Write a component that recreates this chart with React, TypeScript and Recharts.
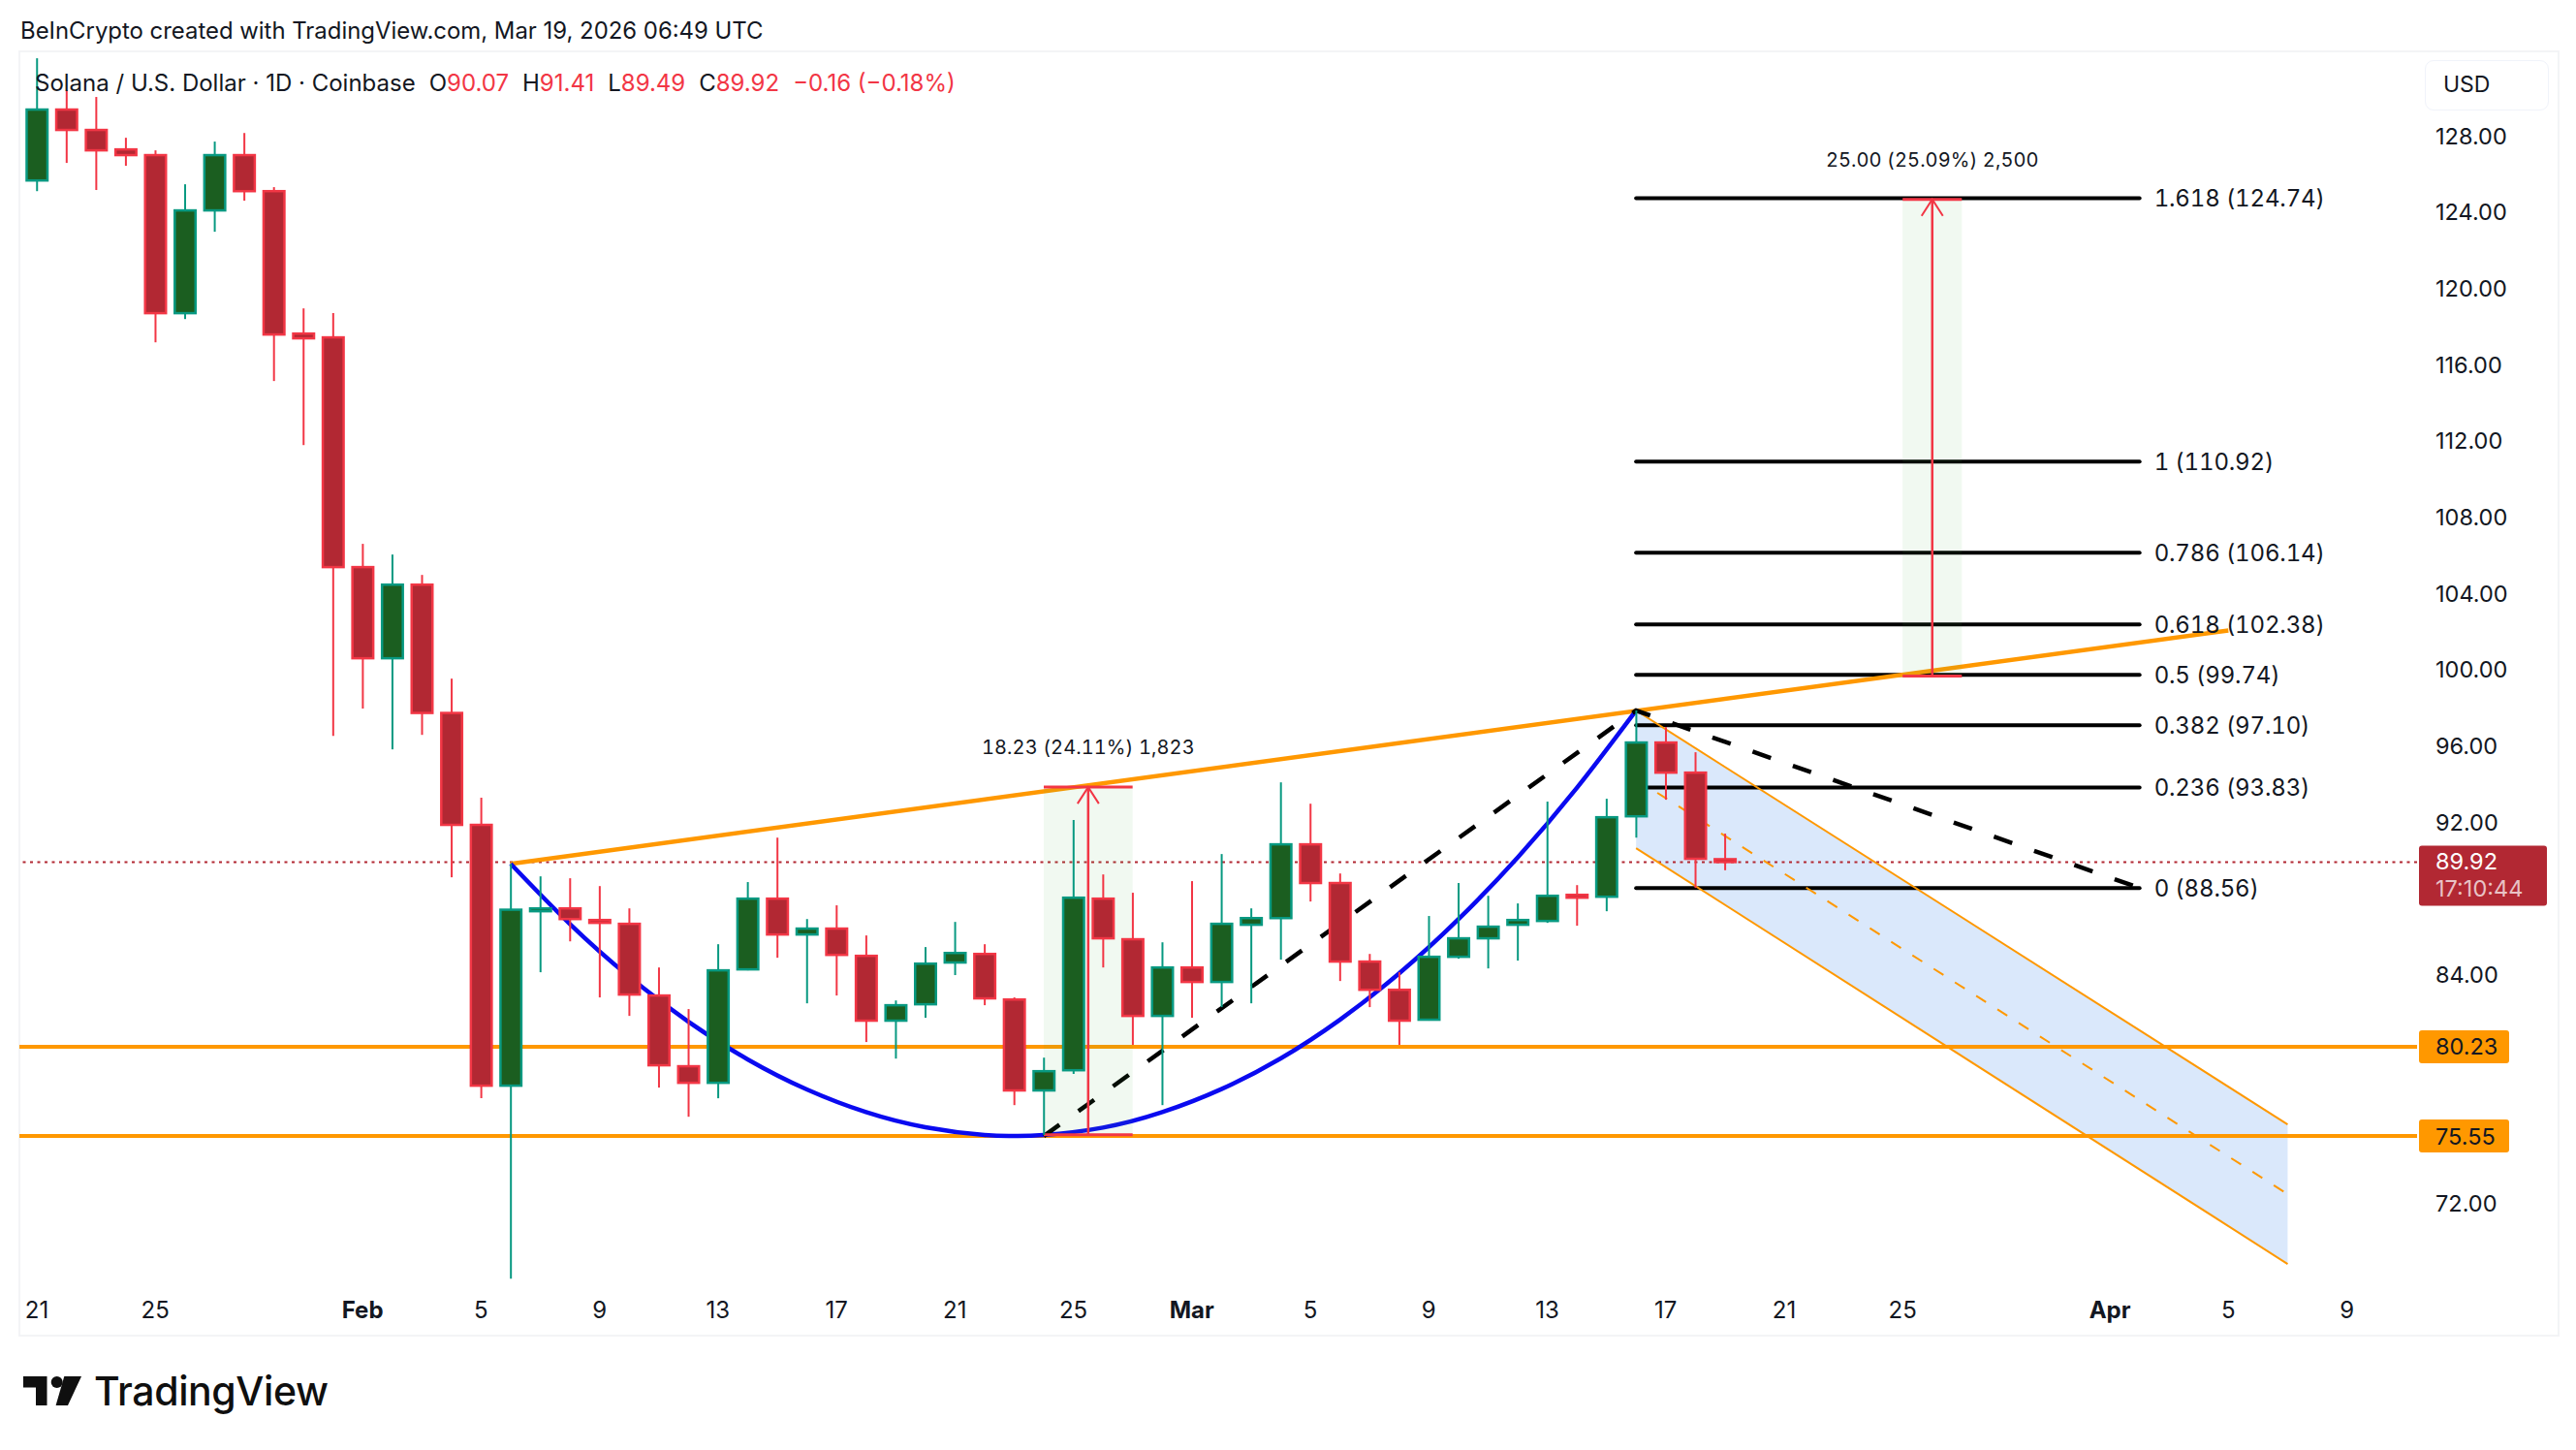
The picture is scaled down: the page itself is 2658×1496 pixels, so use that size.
import { Area, Bar, ComposedChart, Line, ReferenceArea, ReferenceLine, Scatter, XAxis, YAxis } from "recharts";

const FONT = "Inter, 'Liberation Sans', sans-serif";
const INK = "#131722";
const UP_BORDER = "#089981";
const UP_FILL = "#1B5E20";
const DOWN_BORDER = "#F23645";
const DOWN_FILL = "#B22833";
const ORANGE = "#FF9800";

const opens = [125.67, 129.39, 128.32, 127.3, 127.0, 118.71, 124.1, 127.0, 125.11, 117.64, 117.44, 105.39, 100.61, 104.47, 97.74, 91.87, 78.19, 87.34, 87.49, 86.88, 86.68, 82.92, 79.21, 78.34, 84.29, 88.0, 86.12, 86.43, 85.0, 81.6, 82.46, 84.65, 85.1, 82.71, 77.94, 79.0, 88.0, 85.87, 81.85, 84.39, 83.63, 86.63, 86.98, 90.85, 88.82, 84.7, 83.22, 81.65, 84.95, 85.92, 86.63, 86.83, 88.2, 88.1, 92.32, 96.19, 94.61, 90.07];
const highs = [132.08, 130.4, 130.05, 127.91, 127.25, 125.47, 127.71, 128.16, 125.32, 118.96, 118.71, 106.61, 106.05, 104.98, 99.54, 93.29, 89.83, 89.17, 89.07, 88.66, 87.49, 84.39, 82.21, 85.61, 88.87, 91.2, 86.93, 87.65, 86.07, 82.66, 85.46, 86.78, 85.61, 82.82, 79.66, 92.12, 89.27, 88.31, 85.71, 88.92, 90.34, 87.49, 94.1, 92.98, 89.32, 85.1, 84.14, 87.09, 88.82, 88.15, 87.75, 93.09, 88.71, 93.24, 97.87, 97.0, 95.68, 91.41];
const lows = [125.11, 126.59, 125.17, 126.44, 117.18, 118.4, 122.98, 124.61, 115.15, 111.79, 96.54, 97.97, 95.83, 96.59, 89.12, 77.53, 68.07, 84.14, 85.76, 82.82, 81.85, 78.09, 76.56, 77.53, 84.24, 84.9, 82.51, 82.92, 80.48, 79.61, 81.75, 83.99, 82.41, 77.17, 75.6, 78.8, 84.39, 80.33, 77.17, 81.75, 82.31, 82.51, 84.8, 87.85, 83.68, 82.31, 80.33, 81.6, 84.85, 84.34, 84.75, 86.73, 86.58, 87.34, 91.2, 93.19, 88.56, 89.49];
const closes = [129.39, 128.32, 127.25, 127.0, 118.71, 124.1, 127.0, 125.11, 117.59, 117.39, 105.39, 100.61, 104.47, 97.74, 91.87, 78.19, 87.42, 87.49, 86.93, 86.73, 82.97, 79.26, 78.34, 84.24, 88.0, 86.12, 86.43, 85.05, 81.6, 82.41, 84.59, 85.15, 82.77, 77.94, 78.95, 88.05, 85.92, 81.85, 84.39, 83.63, 86.68, 86.98, 90.85, 88.82, 84.7, 83.22, 81.6, 84.95, 85.92, 86.53, 86.88, 88.15, 88.05, 92.27, 96.19, 94.61, 90.09, 89.92];

const candles = opens.map((open, i) => ({
  day: i,
  open,
  high: highs[i],
  low: lows[i],
  close: closes[i],
  range: [lows[i], highs[i]],
}));

const xTickDays = [0, 4, 11, 15, 19, 23, 27, 31, 35, 39, 43, 47, 51, 55, 59, 63, 70, 74, 78];
const xTickLabels = ["21", "25", "Feb", "5", "9", "13", "17", "21", "25", "Mar", "5", "9", "13", "17", "21", "25", "Apr", "5", "9"];
const monthLabels = ["Feb", "Mar", "Apr"];
// 76, 80 and 88 sit behind the price tags in the screenshot
const priceTicks = [72, 84, 92, 96, 100, 104, 108, 112, 116, 120, 124, 128];

const lastPrice = 89.92;
const countdown = "17:10:44";
const supportLevels = [80.23, 75.55];

const fibStart = 54;
const fibEnd = 71;
const fibLevels = [124.74, 110.92, 106.14, 102.38, 99.74, 97.1, 93.83, 88.56];
const fibNames = ["1.618", "1", "0.786", "0.618", "0.5", "0.382", "0.236", "0"];
const fibLabels = fibLevels.map((price, i) => ({
  day: fibEnd,
  price,
  text: `${fibNames[i]} (${price.toFixed(2)})`,
}));

const trendLine = [{ day: 16, price: 89.83 }, { day: 74, price: 102.07 }];
const zigzag = [{ day: 34, price: 75.55 }, { day: 54, price: 97.87 }, { day: 71, price: 88.56 }];

const curveDays = [16, 18, 20, 22, 24, 26, 28, 30, 32, 33, 34, 36, 38, 40, 42, 44, 46, 48, 50, 52, 54];
const curvePrices = [89.83, 86.67, 83.91, 81.55, 79.57, 77.99, 76.8, 76.01, 75.6, 75.55, 75.6, 75.99, 76.8, 78.01, 79.62, 81.65, 84.08, 86.92, 90.16, 93.81, 97.87];
const curve = curveDays.map((day, i) => ({ day, price: curvePrices[i] }));

const channelUpper = [{ day: 54, price: 97.87 }, { day: 76, price: 76.16 }];
const channelLower = [{ day: 54, price: 90.65 }, { day: 76, price: 68.84 }];
const channelMiddle = [{ day: 54, price: 94.26 }, { day: 76, price: 72.5 }];
const channelBand = [{ day: 54, band: [90.65, 97.87] }, { day: 76, band: [68.84, 76.16] }];

const measures = [
  { from: 34, to: 37, mid: 35.5, low: 75.62, high: 93.85, text: "18.23 (24.11%) 1,823" },
  { from: 63, to: 65, mid: 64, low: 99.68, high: 124.68, text: "25.00 (25.09%) 2,500" },
];

const DAY_MIN = -0.589;
const DAY_MAX = 80.37;
const BODY_WIDTH = 24;

function Candle(props: any) {
  const { x, y, width, height, payload } = props;
  const { open, high, low, close } = payload;
  const unit = height / (high - low);
  const mid = x + width / 2;
  const up = close >= open;
  const border = up ? UP_BORDER : DOWN_BORDER;
  const bodyTop = y + (high - Math.max(open, close)) * unit;
  const bodyHeight = Math.max(Math.abs(open - close) * unit, 1);
  return (
    <g>
      <line x1={mid} x2={mid} y1={y} y2={y + height} stroke={border} strokeWidth={2} />
      <rect
        x={mid - BODY_WIDTH / 2 + 1.25}
        y={bodyTop}
        width={BODY_WIDTH - 2.5}
        height={bodyHeight}
        fill={up ? UP_FILL : DOWN_FILL}
        stroke={border}
        strokeWidth={2.5}
      />
    </g>
  );
}

function XTick(props: any) {
  const { x, y, payload } = props;
  const label = xTickLabels[xTickDays.indexOf(payload.value)];
  return (
    <text
      x={x}
      y={y}
      textAnchor="middle"
      dominantBaseline="central"
      fontFamily={FONT}
      fontSize={24}
      fontWeight={monthLabels.includes(label) ? 700 : 400}
      fill={INK}
    >
      {label}
    </text>
  );
}

function FibLabel(props: any) {
  const { cx, cy, payload } = props;
  return (
    <text
      x={cx + 15}
      y={cy}
      dominantBaseline="central"
      fontFamily={FONT}
      fontSize={24}
      letterSpacing={-0.15}
      fill={INK}
      style={{ fontVariantNumeric: "tabular-nums" }}
    >
      {payload.text}
    </text>
  );
}

function MeasureHead(props: any) {
  const { cx, cy, payload } = props;
  return (
    <g>
      <path d={`M${cx - 11} ${cy + 17}L${cx} ${cy}L${cx + 11} ${cy + 17}`} fill="none" stroke={DOWN_BORDER} strokeWidth={2} />
      <text
        x={cx}
        y={cy - 41}
        textAnchor="middle"
        dominantBaseline="central"
        fontFamily={FONT}
        fontSize={20}
        letterSpacing={0.1}
        fill={INK}
        style={{ fontVariantNumeric: "tabular-nums" }}
      >
        {payload.text}
      </text>
    </g>
  );
}

function SupportTag(props: any) {
  const { cx, cy, payload } = props;
  return (
    <g>
      <rect x={cx + 2} y={cy - 17} width={93} height={34} rx={3} fill={ORANGE} />
      <text x={cx + 19} y={cy} dominantBaseline="central" fontFamily={FONT} fontSize={23.5} fill={INK}>
        {payload.price.toFixed(2)}
      </text>
    </g>
  );
}

function LastPriceTag(props: any) {
  const { cx, cy, payload } = props;
  return (
    <g>
      <rect x={cx + 2} y={cy - 17} width={132} height={62} rx={3} fill={DOWN_FILL} />
      <text x={cx + 19} y={cy - 1} dominantBaseline="central" fontFamily={FONT} fontSize={23.5} fill="#fff">
        {payload.price.toFixed(2)}
      </text>
      <text x={cx + 19} y={cy + 27} dominantBaseline="central" fontFamily={FONT} fontSize={23.5} fill="rgba(255,255,255,0.72)">
        {countdown}
      </text>
    </g>
  );
}

function Legend() {
  const red = { color: DOWN_BORDER };
  const gap = { marginLeft: 14 };
  return (
    <div
      style={{
        position: "absolute",
        left: 36,
        top: 70,
        fontFamily: FONT,
        fontSize: 24,
        lineHeight: "32px",
        color: INK,
        whiteSpace: "pre",
      }}
    >
      Solana / U.S. Dollar · 1D · Coinbase
      <span style={gap}>O</span><span style={red}>90.07</span>
      <span style={gap}>H</span><span style={red}>91.41</span>
      <span style={gap}>L</span><span style={red}>89.49</span>
      <span style={gap}>C</span><span style={red}>89.92</span>
      <span style={{ ...red, ...gap }}>−0.16 (−0.18%)</span>
    </div>
  );
}

function Logo() {
  return (
    <div style={{ position: "absolute", left: 24, top: 1412, display: "flex", alignItems: "flex-start" }}>
      <svg width={62} height={46} viewBox="0 0 62 46">
        <path d="M0 8H24.5V38H13V19.5H0Z" fill="#0F0F0F" />
        <circle cx={34.7} cy={14} r={6} fill="#0F0F0F" />
        <path d="M42.3 8H60L46 38H33.6Z" fill="#0F0F0F" />
      </svg>
      <span
        style={{
          marginLeft: 11,
          fontFamily: FONT,
          fontSize: 41,
          fontWeight: 500,
          lineHeight: "46px",
          letterSpacing: -0.4,
          color: "#0F0F0F",
        }}
      >
        TradingView
      </span>
    </div>
  );
}

export default function App() {
  return (
    <div style={{ position: "absolute", left: 0, top: 0, width: 2658, height: 1496, background: "#fff", overflow: "hidden" }}>
      <div style={{ position: "absolute", left: 21, top: 16, fontFamily: FONT, fontSize: 23.9, lineHeight: "32px", color: INK, whiteSpace: "pre" }}>
        BeInCrypto created with TradingView.com, Mar 19, 2026 06:49 UTC
      </div>
      <div
        style={{
          position: "absolute",
          left: 19,
          top: 52,
          width: 2618,
          height: 1323,
          border: "2px solid #F3F4F6",
          boxSizing: "content-box",
        }}
      />
      <ComposedChart
        style={{ position: "absolute", left: 0, top: 0 }}
        width={2658}
        height={1496}
        data={candles}
        margin={{ top: 55, right: 20, bottom: 120, left: 20 }}
      >
        <XAxis
          dataKey="day"
          type="number"
          domain={[DAY_MIN, DAY_MAX]}
          ticks={xTickDays}
          interval={0}
          height={46}
          axisLine={false}
          tickLine={false}
          tickSize={0}
          tickMargin={21}
          tick={<XTick />}
        />
        <YAxis
          orientation="right"
          type="number"
          domain={[67.52, 132.34]}
          ticks={priceTicks}
          interval={0}
          width={144}
          axisLine={false}
          tickLine={false}
          tickSize={0}
          tickMargin={19}
          tickFormatter={(v: number) => v.toFixed(2)}
          tick={{ fill: INK, fontFamily: FONT, fontSize: 23.5 }}
        />
        <Area
          data={channelBand}
          dataKey="band"
          type="linear"
          fill="#DAE8FB"
          fillOpacity={1}
          stroke="none"
          dot={false}
          isAnimationActive={false}
        />
        {fibLevels.map((price) => (
          <ReferenceLine
            key={price}
            segment={[{ x: fibStart, y: price }, { x: fibEnd, y: price }]}
            stroke="#000"
            strokeWidth={4}
            strokeLinecap="round"
          />
        ))}
        {supportLevels.map((price) => (
          <ReferenceLine key={price} y={price} stroke={ORANGE} strokeWidth={4} />
        ))}
        <ReferenceLine y={lastPrice} stroke={DOWN_FILL} strokeWidth={2} strokeDasharray="3 4.5" />
        <Line data={channelUpper} dataKey="price" stroke={ORANGE} strokeWidth={2} dot={false} isAnimationActive={false} />
        <Line data={channelLower} dataKey="price" stroke={ORANGE} strokeWidth={2} dot={false} isAnimationActive={false} />
        <Line data={channelMiddle} dataKey="price" stroke={ORANGE} strokeWidth={2} strokeDasharray="12 14" dot={false} isAnimationActive={false} />
        <Line data={trendLine} dataKey="price" stroke={ORANGE} strokeWidth={4.5} dot={false} isAnimationActive={false} />
        <Line data={curve} dataKey="price" type="natural" stroke="#0A0AF0" strokeWidth={4.5} dot={false} isAnimationActive={false} />
        <Line data={zigzag} dataKey="price" stroke="#000" strokeWidth={4.5} strokeDasharray="20 24" dot={false} isAnimationActive={false} />
        {measures.map((m) => (
          <ReferenceArea
            key={m.from}
            x1={m.from}
            x2={m.to}
            y1={m.low}
            y2={m.high}
            fill="#4CAF50"
            fillOpacity={0.08}
            stroke="none"
            zIndex={450}
          />
        ))}
        {measures.map((m) => (
          <ReferenceLine
            key={m.mid}
            segment={[{ x: m.mid, y: m.low }, { x: m.mid, y: m.high }]}
            stroke={DOWN_BORDER}
            strokeWidth={2.5}
            zIndex={460}
          />
        ))}
        {measures.flatMap((m) => [m.low, m.high].map((price) => (
          <ReferenceLine
            key={`${m.from}-${price}`}
            segment={[{ x: m.from, y: price }, { x: m.to, y: price }]}
            stroke={DOWN_BORDER}
            strokeWidth={3}
            zIndex={460}
          />
        )))}
        <Bar dataKey="range" barSize={24} shape={<Candle />} isAnimationActive={false} zIndex={550} />
        <Scatter data={fibLabels} dataKey="price" shape={<FibLabel />} isAnimationActive={false} />
        <Scatter
          data={measures.map((m) => ({ day: m.mid, price: m.high, text: m.text }))}
          dataKey="price"
          shape={<MeasureHead />}
          isAnimationActive={false}
        />
        <Scatter
          data={supportLevels.map((price) => ({ day: DAY_MAX, price }))}
          dataKey="price"
          shape={<SupportTag />}
          isAnimationActive={false}
        />
        <Scatter data={[{ day: DAY_MAX, price: lastPrice }]} dataKey="price" shape={<LastPriceTag />} isAnimationActive={false} />
      </ComposedChart>
      <Legend />
      <div
        style={{
          position: "absolute",
          left: 2502,
          top: 62,
          width: 128,
          height: 52,
          boxSizing: "border-box",
          border: "1.5px solid #F0F3FA",
          borderRadius: 9,
          paddingLeft: 18,
          fontFamily: FONT,
          fontSize: 23,
          lineHeight: "49px",
          color: INK,
        }}
      >
        USD
      </div>
      <Logo />
    </div>
  );
}
